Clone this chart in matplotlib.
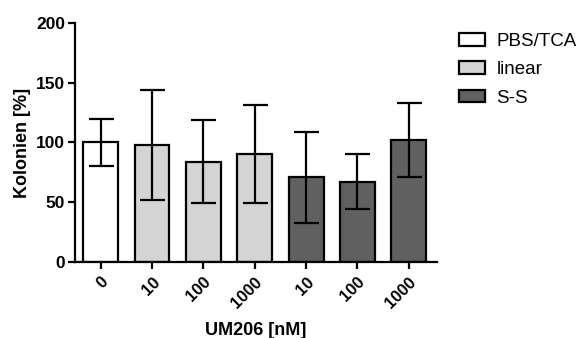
import matplotlib
matplotlib.use("Agg")
import matplotlib.pyplot as plt
from matplotlib.patches import Patch

plt.rcParams['font.family'] = ['Liberation Sans', 'DejaVu Sans']

labels = ['0', '10', '100', '1000', '10', '100', '1000']
means = [100, 98, 84, 90, 71, 67, 102]
errs = [20, 46, 35, 41, 38, 23, 31]
groups = ['PBS/TCA', 'linear', 'linear', 'linear', 'S-S', 'S-S', 'S-S']
group_colors = {'PBS/TCA': 'white', 'linear': '#d4d4d4', 'S-S': '#606060'}

fig = plt.figure(figsize=(5.84, 3.38), dpi=100)
ax = fig.add_axes([0.1284, 0.2249, 0.62, 0.7071])

x = list(range(len(means)))
colors = [group_colors[g] for g in groups]
ax.bar(x, means, width=0.68, color=colors, edgecolor='black', linewidth=1.6, zorder=2)
ax.errorbar(x, means, yerr=errs, fmt='none', ecolor='black', elinewidth=1.6,
            capsize=9, capthick=1.6, zorder=3)

ax.set_xlim(-0.5, 6.55)
ax.set_ylim(0, 200)
ax.set_yticks([0, 50, 100, 150, 200])
ax.set_xticks(x)
ax.set_xticklabels(labels, rotation=45, ha='right', rotation_mode='anchor',
                   fontweight='bold', fontsize=12)
for t in ax.get_yticklabels():
    t.set_fontweight('bold')
    t.set_fontsize(12.5)

ax.spines['top'].set_visible(False)
ax.spines['right'].set_visible(False)
ax.spines['left'].set_linewidth(1.6)
ax.spines['bottom'].set_linewidth(1.6)
ax.tick_params(axis='both', width=1.6, length=5, pad=2)
ax.tick_params(axis='x', pad=4)

ax.set_ylabel('Kolonien [%]', fontweight='bold', fontsize=13, labelpad=4)
ax.set_xlabel('UM206 [nM]', fontweight='bold', fontsize=13, labelpad=8)

handles = [Patch(facecolor=group_colors[g], edgecolor='black', linewidth=1.6, label=g)
           for g in ['PBS/TCA', 'linear', 'S-S']]
fig.legend(handles=handles, loc='upper left', bbox_to_anchor=(0.77, 0.93),
           frameon=False, fontsize=13.5, handlelength=1.4, handleheight=0.65,
           labelspacing=0.6, handletextpad=0.6, borderpad=0)

fig.savefig('out.png', dpi=100)
